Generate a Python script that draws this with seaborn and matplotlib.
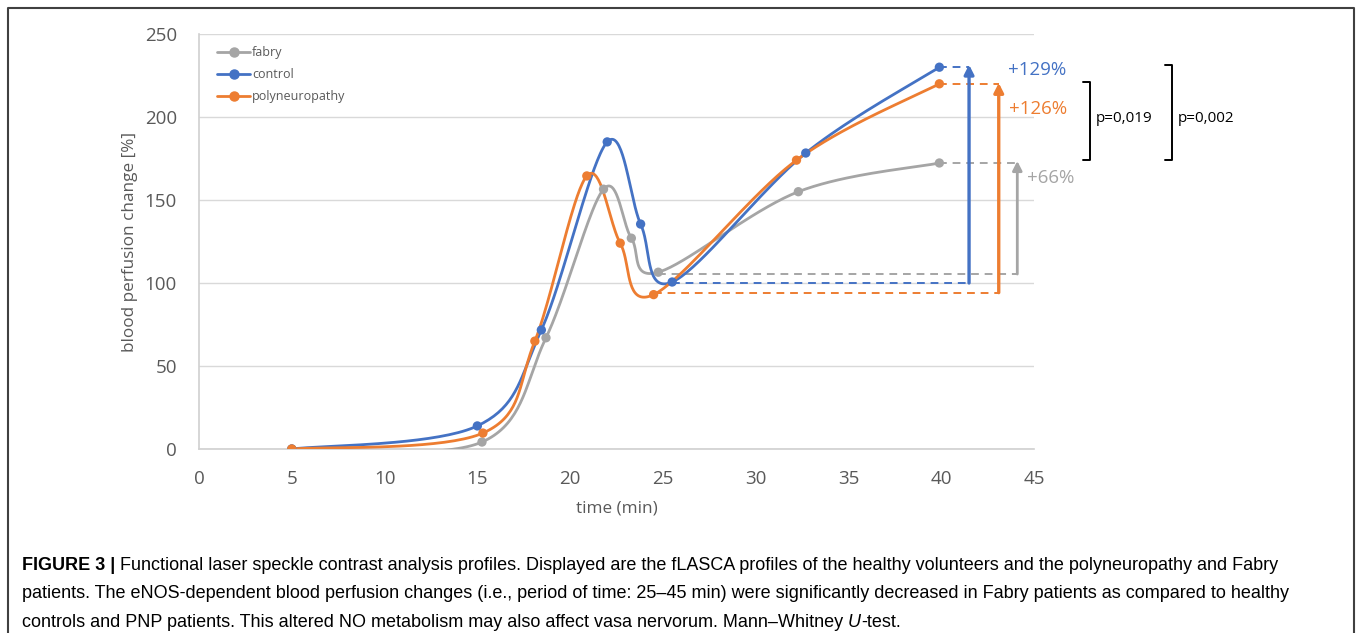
import numpy as np
import pandas as pd
import matplotlib
matplotlib.use("Agg")
import matplotlib.pyplot as plt
from matplotlib.lines import Line2D
import seaborn as sns

# data (time in min, blood perfusion change in %)
groups = ["fabry", "control", "polyneuropathy"]
time_fabry = [5, 15.25, 18.7, 21.8, 23.3, 24.75, 32.3, 39.9]
perf_fabry = [0, 4.2, 67, 156.5, 127, 106.5, 155, 172.3]
time_control = [5, 15.0, 18.45, 22.0, 23.8, 25.5, 32.7, 39.9]
perf_control = [0, 13.9, 71.7, 185, 135.5, 100.6, 178.3, 230]
time_pnp = [5, 15.3, 18.1, 20.9, 22.7, 24.5, 32.2, 39.9]
perf_pnp = [0, 9.6, 65, 164.5, 124, 93, 174, 220]

increase_labels = ["+66%", "+129%", "+126%"]
p_labels = ["p=0,019", "p=0,002"]
x_ticks = [0, 5, 10, 15, 20, 25, 30, 35, 40, 45]
y_ticks = [0, 50, 100, 150, 200, 250]

colors = {"fabry": "#A5A5A5", "control": "#4472C4", "polyneuropathy": "#ED7D31"}
series = {
    "fabry": (time_fabry, perf_fabry),
    "control": (time_control, perf_control),
    "polyneuropathy": (time_pnp, perf_pnp),
}

# annotation geometry: (baseline value, baseline start, arrow x, arrow top)
arrows = {
    "fabry": (105.4, 24.75, 44.1, 173.5),
    "control": (100.0, 25.5, 41.5, 231.5),
    "polyneuropathy": (94.2, 24.5, 43.1, 220.5),
}


def smooth(xs, ys, n=40):
    # Excel-style smoothed line (Catmull-Rom bezier through the points)
    P = np.column_stack([xs, ys]).astype(float)
    out = []
    for i in range(len(P) - 1):
        p0 = P[i - 1] if i > 0 else P[i]
        p1, p2 = P[i], P[i + 1]
        p3 = P[i + 2] if i + 2 < len(P) else P[i + 1]
        b1 = p1 + (p2 - p0) / 6
        b2 = p2 - (p3 - p1) / 6
        t = np.linspace(0, 1, n)[:, None]
        seg = (1 - t) ** 3 * p1 + 3 * (1 - t) ** 2 * t * b1 + 3 * (1 - t) * t ** 2 * b2 + t ** 3 * p2
        out.append(seg if i == 0 else seg[1:])
    return np.vstack(out)


sns.set_style("white")
plt.rcParams["font.family"] = ["Open Sans", "DejaVu Sans"]

W, H = 1360, 633
fig = plt.figure(figsize=(W / 100, H / 100), dpi=100)


def fx(px):
    return px / W


def fy(py):
    return 1 - py / H


ax = fig.add_axes([fx(199), fy(449), fx(1034) - fx(199), fy(34) - fy(449)])

# smooth curves + markers
for g in groups:
    xs, ys = series[g]
    curve = smooth(xs, ys)
    sns.lineplot(x=curve[:, 0], y=curve[:, 1], sort=False, estimator=None,
                 color=colors[g], lw=2.0, ax=ax, zorder=3)

points = pd.concat([pd.DataFrame({"time": series[g][0], "perfusion": series[g][1], "group": g})
                    for g in groups], ignore_index=True)
sns.scatterplot(data=points, x="time", y="perfusion", hue="group", palette=colors,
                s=45, edgecolor="none", legend=False, ax=ax, zorder=4)

# increase arrows
for g in groups:
    base, x0, xa, top = arrows[g]
    xs, ys = series[g]
    c = colors[g]
    lw_a = 2.0 if g == "fabry" else 2.4
    ax.plot([x0, xa], [base, base], ls=(0, (4, 3)), lw=1.4, color=c, zorder=2, clip_on=False)
    ax.plot([xs[-1], xa], [ys[-1], ys[-1]], ls=(0, (4, 3)), lw=1.4, color=c, zorder=2, clip_on=False)
    ax.annotate("", xy=(xa, top), xytext=(xa, base),
                arrowprops=dict(arrowstyle="-|>,head_length=0.55,head_width=0.28",
                                lw=lw_a, color=c, shrinkA=0, shrinkB=0),
                annotation_clip=False, zorder=5)

ax.set_xlim(0, 45)
ax.set_ylim(0, 250)
ax.set_xticks(x_ticks)
ax.set_yticks(y_ticks)
ax.tick_params(axis="both", length=0, labelsize=13.5, labelcolor="#595959")
ax.tick_params(axis="x", pad=15)
ax.tick_params(axis="y", pad=16)
ax.yaxis.grid(True, color="#D9D9D9", lw=1)
ax.xaxis.grid(False)
for s in ["top", "right"]:
    ax.spines[s].set_visible(False)
for s in ["left", "bottom"]:
    ax.spines[s].set_color("#D0D0D0")
    ax.spines[s].set_linewidth(1.2)
ax.set_xlabel("time (min)", fontsize=12.3, color="#595959", labelpad=9)
ax.set_ylabel("blood perfusion change [%]", fontsize=12.3, color="#595959", labelpad=5)

handles = [Line2D([], [], color=colors[g], lw=2.0, marker="o", ms=6.5) for g in groups]
leg = fig.legend(handles, groups, loc="upper left", bbox_to_anchor=(fx(211), fy(40)),
                 frameon=False, fontsize=9, borderpad=0, handlelength=2.6,
                 handletextpad=0.2, labelspacing=0.72)
for t in leg.get_texts():
    t.set_color("#595959")

# percentage labels
fig.text(fx(1027), fy(178), increase_labels[0], color=colors["fabry"], fontsize=13.5, va="center")
fig.text(fx(1008), fy(70), increase_labels[1], color=colors["control"], fontsize=13.5, va="center")
fig.text(fx(1009), fy(109), increase_labels[2], color=colors["polyneuropathy"], fontsize=13.5, va="center")

# significance brackets
for xb, top, lab in [(1090, 82, p_labels[0]), (1172, 65, p_labels[1])]:
    fig.add_artist(Line2D([fx(xb - 7), fx(xb), fx(xb), fx(xb - 7)],
                          [fy(top), fy(top), fy(160), fy(160)],
                          color="black", lw=1.4, transform=fig.transFigure))
    fig.text(fx(xb + 6), fy(118), lab, fontsize=11, color="black", va="center")

# outer frame
fig.add_artist(Line2D([fx(8), fx(8), fx(1354), fx(1354)], [0, fy(8), fy(8), 0],
                      color="#404040", lw=1.5, transform=fig.transFigure))

# caption
cap_font = ["Liberation Sans", "DejaVu Sans"]
caption = [
    [("FIGURE 3 | ", "bold", "normal"),
     ("Functional laser speckle contrast analysis profiles. Displayed are the fLASCA profiles of the healthy "
      "volunteers and the polyneuropathy and Fabry", "normal", "normal")],
    [("patients. The eNOS-dependent blood perfusion changes (i.e., period of time: 25\u201345 min) were "
      "significantly decreased in Fabry patients as compared to healthy", "normal", "normal")],
    [("controls and PNP patients. This altered NO metabolism may also affect vasa nervorum. Mann\u2013Whitney ",
      "normal", "normal"), ("U", "normal", "italic"), ("-test.", "normal", "normal")],
]
renderer = fig.canvas.get_renderer()
for i, line in enumerate(caption):
    x = fx(22)
    for txt, weight, style in line:
        t = fig.text(x, fy(570 + 28.5 * i), txt, fontsize=13.0, family=cap_font,
                     weight=weight, style=style, va="baseline", color="black")
        x += t.get_window_extent(renderer).width / W

fig.savefig("out.png", dpi=100)
